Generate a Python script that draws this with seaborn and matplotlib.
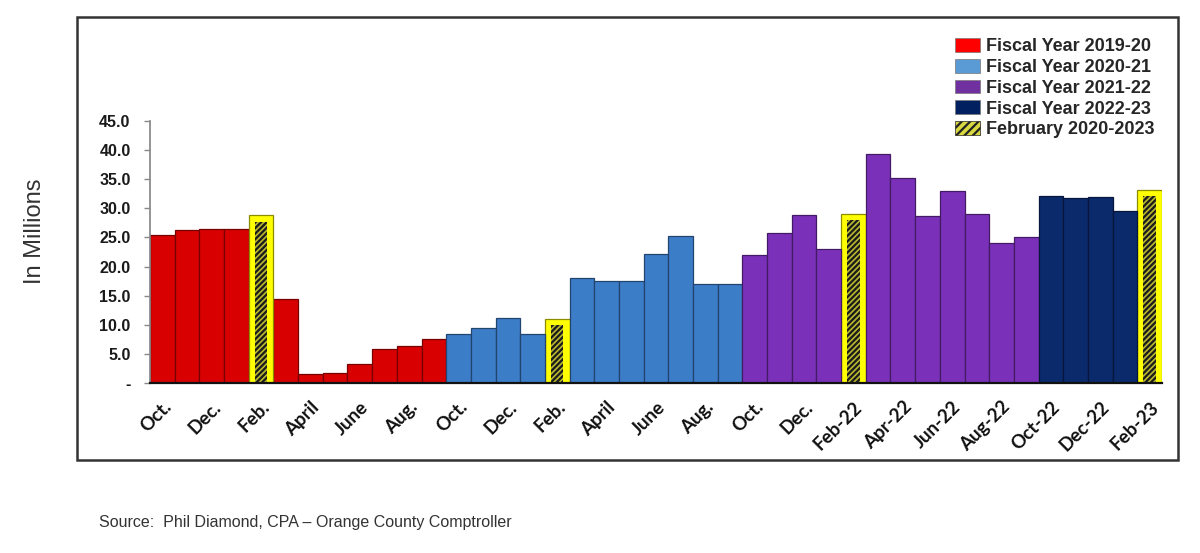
import numpy as np
import pandas as pd
import seaborn as sns
import matplotlib
matplotlib.use('Agg')
from matplotlib import pyplot as plt
from matplotlib.patches import Patch, Rectangle
from matplotlib.colors import to_rgb

# monthly values in millions, fiscal year runs Oct - Sep
fiscal_months = ['Oct', 'Nov', 'Dec', 'Jan', 'Feb', 'Mar', 'Apr', 'May', 'Jun', 'Jul', 'Aug', 'Sep']
fy_2019_20 = [25.4, 26.2, 26.5, 26.5, 28.8, 14.5, 1.5, 1.8, 3.3, 5.8, 6.4, 7.6]
fy_2020_21 = [8.4, 9.4, 11.1, 8.4, 11.0, 18.1, 17.6, 17.6, 22.2, 25.2, 17.0, 17.0]
fy_2021_22 = [21.9, 25.8, 28.8, 23.0, 29.1, 39.3, 35.2, 28.6, 33.0, 29.0, 24.0, 25.0]
fy_2022_23 = [32.2, 31.8, 31.9, 29.6, 33.2]

fy_names = ['Fiscal Year 2019-20', 'Fiscal Year 2020-21', 'Fiscal Year 2021-22', 'Fiscal Year 2022-23']
feb_name = 'February 2020-2023'

tick_labels = ['Oct.', 'Dec.', 'Feb.', 'April', 'June', 'Aug.',
               'Oct.', 'Dec.', 'Feb.', 'April', 'June', 'Aug.',
               'Oct.', 'Dec.', 'Feb-22', 'Apr-22', 'Jun-22', 'Aug-22',
               'Oct-22', 'Dec-22', 'Feb-23']

bar_colors = {fy_names[0]: '#D80000', fy_names[1]: '#3C7DC8', fy_names[2]: '#7A30B8',
              fy_names[3]: '#0B2A6C', feb_name: '#FFFF00'}
legend_colors = {fy_names[0]: '#FF0000', fy_names[1]: '#5B9BD5', fy_names[2]: '#7030A0',
                 fy_names[3]: '#002060'}

rows = []
for name, vals in zip(fy_names, [fy_2019_20, fy_2020_21, fy_2021_22, fy_2022_23]):
  for month, v in zip(fiscal_months, vals):
    rows.append({'pos': len(rows), 'month': month, 'value': v,
                 'group': feb_name if month == 'Feb' else name})
df = pd.DataFrame(rows)

sns.set_theme(style='white')
plt.rcParams['font.family'] = ['Liberation Sans', 'DejaVu Sans']
plt.rcParams['hatch.linewidth'] = 1.6

fig = plt.figure(figsize=(12, 5.53), dpi=100)
ax = fig.add_axes([150/1200, 1-383/553, (1162-150)/1200, (383-121)/553])

sns.barplot(data=df, x='pos', y='value', hue='group', palette=bar_colors,
            dodge=False, width=1.0, saturation=1, legend=False, ax=ax)
for p in ax.patches:
  fc = np.array(to_rgb(p.get_facecolor()))
  p.set_edgecolor(fc * 0.55)
  p.set_linewidth(0.9)

# inner hatched strip on the February bars
feb = df[df.group == feb_name]
ax.bar(feb.pos, feb.value - 1.1, width=0.5, facecolor='#B8B830',
       edgecolor='#1a1a1a', hatch='//////', linewidth=0)

ax.set_xlim(-0.5, len(df) - 0.5)
ax.set_ylim(0, 45)
yt = np.arange(0, 46, 5)
ax.set_yticks(yt)
ax.set_yticklabels(['-' if v == 0 else '%.1f' % v for v in yt],
                   fontsize=11.5, fontweight='bold', color='#1a1a1a')
ax.set_xticks(df.pos[::2])
ax.set_xticklabels(tick_labels, rotation=45, ha='right', rotation_mode='anchor',
                   fontsize=13.5, fontweight='bold', family=['Lato', 'DejaVu Sans'],
                   color='#111')
ax.tick_params(axis='y', left=True, length=4, width=1, color='#888', pad=10)
ax.tick_params(axis='x', bottom=False, length=0, pad=11)
ax.set_xlabel('')
ax.set_ylabel('')
for s in ['top', 'right']:
  ax.spines[s].set_visible(False)
ax.spines['left'].set_color('#888')
ax.spines['bottom'].set_color('#111')
ax.spines['bottom'].set_linewidth(1.6)

handles = [Patch(facecolor=legend_colors[n], edgecolor='#777', linewidth=0.5, label=n) for n in fy_names]
handles.append(Patch(facecolor='#D8D840', edgecolor='#222', linewidth=0.5, hatch='////', label=feb_name))
fig.legend(handles=handles, loc='upper right', bbox_to_anchor=(1155/1200, 1-38/553),
           frameon=False, prop={'weight': 'bold', 'size': 13},
           handlelength=1.4, handleheight=0.8, handletextpad=0.35, labelspacing=0.2,
           borderpad=0, borderaxespad=0)

fig.text(35/1200, 1-231/553, 'In Millions', rotation=90, ha='center', va='center',
         fontsize=17, color='#333')
fig.text(99/1200, 1-523/553, 'Source:  Phil Diamond, CPA \u2013 Orange County Comptroller',
         ha='left', va='center', fontsize=11.5, color='#333')

fig.patches.append(Rectangle((77/1200, 1-460/553), 1101/1200, 443/553, transform=fig.transFigure,
                             fill=False, edgecolor='#333', linewidth=1.8))

fig.savefig('out.png', dpi=100)
plt.close()
